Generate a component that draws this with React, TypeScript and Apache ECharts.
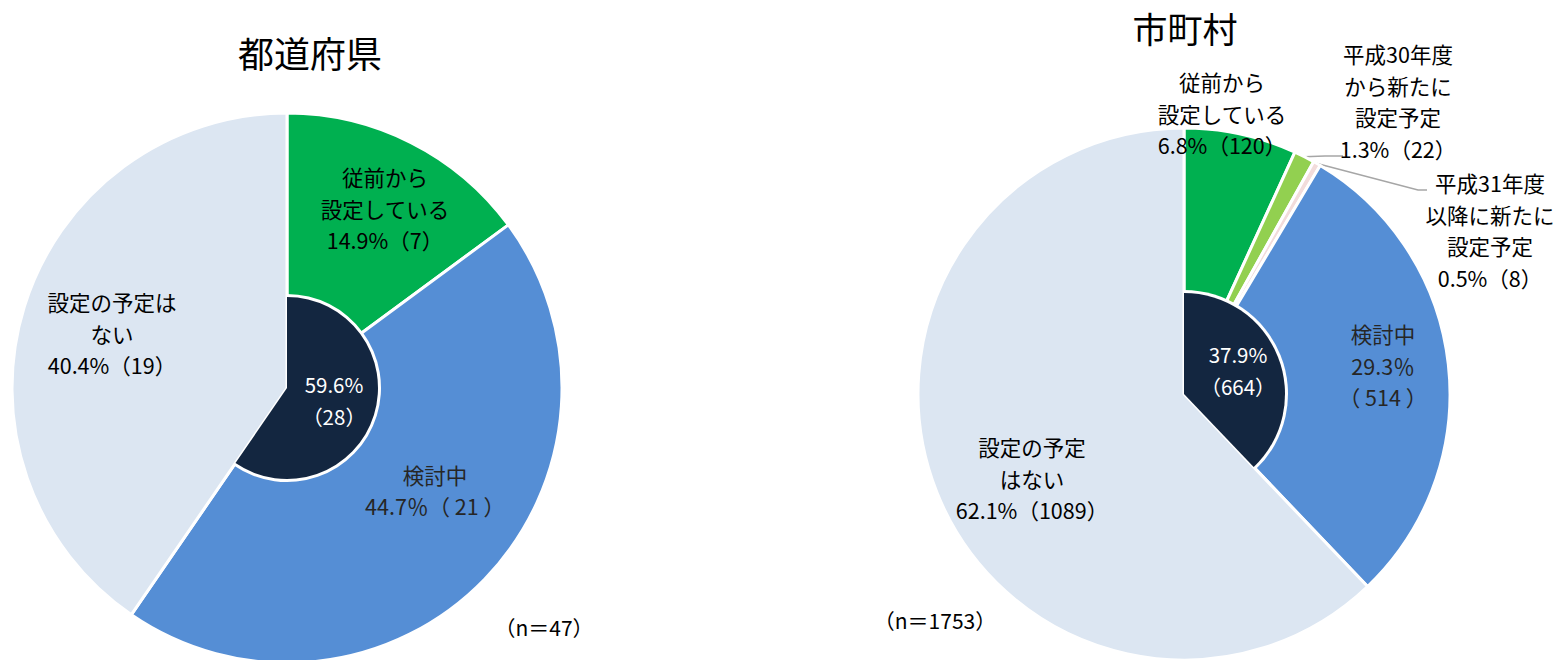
import React, { useEffect, useRef } from 'react';
import * as echarts from 'echarts';

// ---- data ----
const prefTitle = '都道府県';
const muniTitle = '市町村';

const prefNames = ['従前から\n設定している', '検討中', '設定の予定は\nない'];
const prefCounts = [7, 21, 19];
const prefPercents = ['14.9', '44.7', '40.4'];
const prefInnerCounts = [28, 19];
const prefInnerPercents = ['59.6', '40.4'];
const prefTotal = 47;

const muniNames = [
  '従前から\n設定している',
  '平成30年度\nから新たに\n設定予定',
  '平成31年度\n以降に新たに\n設定予定',
  '検討中',
  '設定の予定\nはない',
];
const muniCounts = [120, 22, 8, 514, 1089];
const muniPercents = ['6.8', '1.3', '0.5', '29.3', '62.1'];
const muniInnerCounts = [664, 1089];
const muniInnerPercents = ['37.9', '62.1'];
const muniTotal = 1753;

// ---- styles ----
const GREEN = '#00B050';
const LGREEN = '#92D050';
const PINK = '#F2DCDB';
const BLUE = '#558ED5';
const LIGHT = '#DCE6F2';
const DARK = '#132640';
const FONT = '"Noto Sans CJK JP", "Noto Sans", sans-serif';

const prefColors = [GREEN, BLUE, LIGHT];
const muniColors = [GREEN, LGREEN, PINK, BLUE, LIGHT];

const prefCenter = [287, 388];
const prefR = 275;
const prefInnerR = 91;
const muniCenter = [1184, 394];
const muniR = 266;
const muniInnerR = 101;

const prefLabelPos = [[385, 208], [435, 490], [112, 333]];
const prefInnerLabelPos = [334, 400];
const muniLabelPos = [[1222, 113], [1398, 101], [1490, 230], [1383, 365], [1032, 478]];
const muniInnerLabelPos = [1238, 370];
// leader-line elbow / end points for the two small slices (label side)
const muniLeaderEnds: Record<number, number[][]> = {
  1: [[1325, 156], [1343, 156]],
  2: [[1418, 190], [1427, 190]],
};

function fmtNormal(name: string, pct: string, n: number) {
  return `${name}\n${pct}%（${n}）`;
}

// point on the outer edge of the slice at its middle angle (clockwise from 12 o'clock)
function sliceEdgePoint(counts: number[], idx: number, center: number[], r: number) {
  const total = counts.reduce((a, b) => a + b, 0);
  let before = 0;
  for (let i = 0; i < idx; i++) before += counts[i];
  const frac = (before + counts[idx] / 2) / total;
  const a = frac * Math.PI * 2;
  return [center[0] + r * Math.sin(a), center[1] - r * Math.cos(a)];
}

export default function App() {
  const ref = useRef<HTMLDivElement>(null);
  useEffect(() => {
    if (!ref.current) return;
    const chart = echarts.init(ref.current, null, { renderer: 'svg' });

    const labelBase = {
      show: true,
      position: 'inside',
      color: '#000',
      fontSize: 21.5,
      lineHeight: 31.5,
      fontFamily: FONT,
    };

    const prefData = prefCounts.map((v, i) => {
      const isBlue = i === 1;
      return {
        value: v,
        name: prefNames[i],
        itemStyle: { color: prefColors[i] },
        label: {
          ...labelBase,
          color: isBlue ? '#262626' : '#000',
          formatter: isBlue
            ? `${prefNames[i]}\n${prefPercents[i]}％（ ${v} ）`
            : fmtNormal(prefNames[i], prefPercents[i], v),
        },
      };
    });

    const muniData = muniCounts.map((v, i) => {
      const isBlue = i === 3;
      const outside = i === 1 || i === 2;
      return {
        value: v,
        name: muniNames[i],
        itemStyle: { color: muniColors[i] },
        label: {
          ...labelBase,
          position: outside ? 'outside' : 'inside',
          color: isBlue ? '#262626' : '#000',
          formatter: isBlue
            ? `${muniNames[i]}\n${muniPercents[i]}％\n（ ${v} ）`
            : fmtNormal(muniNames[i], muniPercents[i], v),
        },
        labelLine: {
          show: outside,
          length: 12,
          length2: 20,
          smooth: false,
          lineStyle: { color: '#A6A6A6', width: 1.5 },
        },
      };
    });

    const innerSeries = (
      center: number[],
      r: number,
      counts: number[],
      pcts: string[],
      pos: number[]
    ) => [
      {
        type: 'pie',
        center,
        radius: [0, r + 3],
        startAngle: 90,
        silent: true,
        avoidLabelOverlap: false,
        label: { show: false },
        labelLine: { show: false },
        data: [
          { value: counts[0], itemStyle: { color: '#FFFFFF' } },
          { value: counts[1], itemStyle: { color: 'rgba(0,0,0,0)' } },
        ],
      },
      {
        type: 'pie',
        center,
        radius: [0, r],
        startAngle: 90,
        silent: true,
        avoidLabelOverlap: false,
        labelLine: { show: false },
        labelLayout: () => ({ x: pos[0], y: pos[1], align: 'center', verticalAlign: 'middle' }),
        data: [
          {
            value: counts[0],
            itemStyle: { color: DARK },
            label: {
              ...labelBase,
              fontSize: 20.5,
              color: '#FFFFFF',
              formatter: `${pcts[0]}%\n（${counts[0]}）`,
            },
          },
          {
            value: counts[1],
            itemStyle: { color: 'rgba(0,0,0,0)' },
            label: { show: false },
          },
        ],
      },
    ];

    const textStyle = (text: string, size: number) => ({
      text,
      fontSize: size,
      fontFamily: FONT,
      fill: '#000',
      textAlign: 'center',
      textVerticalAlign: 'middle',
    });

    chart.setOption({
      animation: false,
      series: [
        {
          type: 'pie',
          center: prefCenter,
          radius: [0, prefR],
          startAngle: 90,
          silent: true,
          avoidLabelOverlap: false,
          itemStyle: { borderColor: '#FFFFFF', borderWidth: 3 },
          labelLine: { show: false },
          labelLayout: (p: any) => ({
            x: prefLabelPos[p.dataIndex][0],
            y: prefLabelPos[p.dataIndex][1],
            align: 'center',
            verticalAlign: 'middle',
          }),
          data: prefData,
        },
        ...innerSeries(prefCenter, prefInnerR, prefInnerCounts, prefInnerPercents, prefInnerLabelPos),
        {
          type: 'pie',
          center: muniCenter,
          radius: [0, muniR],
          startAngle: 90,
          silent: true,
          avoidLabelOverlap: false,
          itemStyle: { borderColor: '#FFFFFF', borderWidth: 3 },
          labelLayout: (p: any) => {
            const i = p.dataIndex;
            const out: any = {
              x: muniLabelPos[i][0],
              y: muniLabelPos[i][1],
              align: 'center',
              verticalAlign: 'middle',
            };
            if (muniLeaderEnds[i]) {
              out.labelLinePoints = [
                sliceEdgePoint(muniCounts, i, muniCenter, muniR),
                ...muniLeaderEnds[i],
              ];
            }
            return out;
          },
          data: muniData,
        },
        ...innerSeries(muniCenter, muniInnerR, muniInnerCounts, muniInnerPercents, muniInnerLabelPos),
      ],
      graphic: [
        { type: 'text', x: 310, y: 52, style: textStyle(prefTitle, 36) },
        { type: 'text', x: 1185, y: 27, style: textStyle(muniTitle, 35) },
        { type: 'text', x: 544, y: 627, style: textStyle(`（n＝${prefTotal}）`, 21) },
        { type: 'text', x: 935, y: 620, style: textStyle(`（n＝${muniTotal}）`, 21) },
      ],
    });
    return () => chart.dispose();
  }, []);

  return (
    <div
      ref={ref}
      style={{ position: 'fixed', left: 0, top: 0, width: 1562, height: 660, background: '#fff' }}
    />
  );
}
